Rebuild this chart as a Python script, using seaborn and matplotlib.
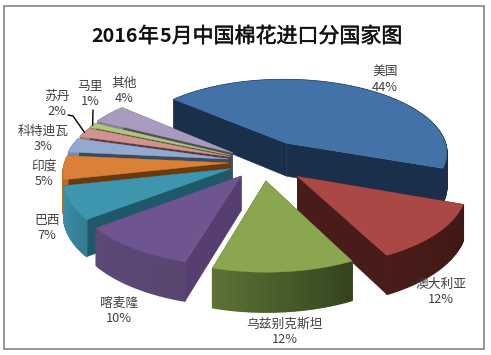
import numpy as np
import matplotlib
matplotlib.use("Agg")
import matplotlib.pyplot as plt
import matplotlib.patheffects as pe
from matplotlib.colors import to_rgb
from matplotlib.patches import Rectangle
import seaborn as sns

countries = ["美国", "澳大利亚", "乌兹别克斯坦", "喀麦隆", "巴西", "印度", "科特迪瓦", "苏丹", "马里", "其他"]
shares = [44, 12, 12, 10, 7, 5, 3, 2, 1, 4]

top_colors = ["#4372A8", "#A94845", "#8AA64F", "#6F5590", "#3D96AE", "#DA8137", "#93A9CF", "#D09391", "#AFC580", "#A99BBD"]
cut_colors = ["#1A2F49", "#4A1C19", "#3C4E22", "#563F70", "#1F5868", "#6A3A0C", "#3A4A60", "#5A3A3A", "#4F5F38", "#4F4F55"]
rim_start = ["#1A2F49", "#3F1815", "#33441E", "#59456F", "#347D92", "#B86A28", "#7A8DAE", "#A87573", "#8FA266", "#8A7E9C"]
rim_end = ["#1A2F49", "#4A1C19", "#5D7335", "#5D4978", "#3B90A8", "#B86A28", "#7A8DAE", "#A87573", "#8FA266", "#8A7E9C"]
explode = [49, 46, 40, 36, 34, 33, 34, 34, 35, 36]

# centre of each label, and order to paint the slices (back to front)
label_xy = [(385, 80), (441, 292), (285, 332), (119, 311), (47, 228), (44, 174), (43, 139), (57, 104), (90, 94), (124, 91)]
paint_order = [0, 9, 8, 7, 6, 5, 4, 3, 1, 2]

CX, CY = 262, 162
R, DEPTH = 164, 34
SQUASH, PERSP = 0.46, 0.12
START = 138.5


def project(x, y, low=False):
    f = 1 / (1 + PERSP * y / R)
    sy = CY - SQUASH * y * f
    if low:
        sy = sy + DEPTH * f
    return CX + x * f, sy


def mix(c1, c2, t):
    return tuple(a + (b - a) * t for a, b in zip(to_rgb(c1), to_rgb(c2)))


sns.set_theme(style="white")
plt.rcParams["font.family"] = ["Noto Sans CJK SC", "DejaVu Sans"]

fig, ax = plt.subplots(figsize=(4.91, 3.55), dpi=100)
ax.set_position([0, 0, 1, 1])
ax.set_xlim(0, 491)
ax.set_ylim(355, 0)
ax.axis("off")
ax.add_patch(Rectangle((4.5, 5.5), 479.5, 343.5, fill=False, ec="#8C8C8C", lw=1.3))

ends = START - np.cumsum(shares) * 3.6
begins = np.r_[START, ends[:-1]]
mid_angles = (begins + ends) / 2


def draw_slice(i):
    mid = np.radians(mid_angles[i])
    ox, oy = explode[i] * np.cos(mid), explode[i] * np.sin(mid)
    th = np.radians(np.linspace(begins[i], ends[i], max(int(shares[i] * 4), 6)))
    rx, ry = ox + R * np.cos(th), oy + R * np.sin(th)

    top = [project(ox, oy)] + [project(a, b) for a, b in zip(rx, ry)]
    tip_hi, tip_lo = project(ox, oy), project(ox, oy, True)

    # the two cut faces, further one first
    faces = [(rx[0], ry[0]), (rx[-1], ry[-1])]
    faces.sort(key=lambda p: -p[1])
    for a, b in faces:
        ax.fill(*zip(tip_hi, project(a, b), project(a, b, True), tip_lo), color=cut_colors[i], lw=0.3, zorder=3)

    # outer wall as thin strips so the shade can run along it
    for k in range(len(th) - 1):
        p = [project(rx[k], ry[k]), project(rx[k + 1], ry[k + 1]),
             project(rx[k + 1], ry[k + 1], True), project(rx[k], ry[k], True)]
        c = mix(rim_start[i], rim_end[i], k / (len(th) - 1))
        ax.fill(*zip(*p), color=c, lw=1.0, zorder=3)

    ax.fill(*zip(*top), color=top_colors[i], lw=0.3, zorder=3)


for i in paint_order:
    draw_slice(i)

# title: digits are bold, the hanzi are not, so lay the pieces out one after another
title_parts = [("2016", "bold"), ("年", "normal"), ("5", "bold"), ("月中国棉花进口分国家图", "normal")]
renderer = fig.canvas.get_renderer()
tx = 91
for part, weight in title_parts:
    size = 14.2 if weight == "bold" else 15.1
    t = ax.text(tx, 34, part, ha="left", va="center_baseline", fontsize=size, fontweight=weight, color="#111111", zorder=6)
    if weight == "normal":
        t.set_path_effects([pe.withStroke(linewidth=0.35, foreground="#111111")])
    tx += t.get_window_extent(renderer).width + 0.5

for name, val, (lx, ly) in zip(countries, shares, label_xy):
    ax.text(lx, ly, f"{name}\n{val}%", ha="center", va="center", fontsize=9.2, color="#404040", linespacing=1.2, zorder=6)


def rim_point(i):
    mid = np.radians(mid_angles[i])
    gx = (explode[i] + R) * np.cos(mid)
    gy = (explode[i] + R) * np.sin(mid)
    return project(gx, gy)


# leader lines for the two thin slices
sx, sy = rim_point(7)
ax.plot([68, 73, sx], [115, 116, sy], color="black", lw=1, zorder=5)
mx, my = rim_point(8)
ax.plot([93, mx], [110, my], color="black", lw=1, zorder=5)

fig.savefig("out.png", dpi=100)
